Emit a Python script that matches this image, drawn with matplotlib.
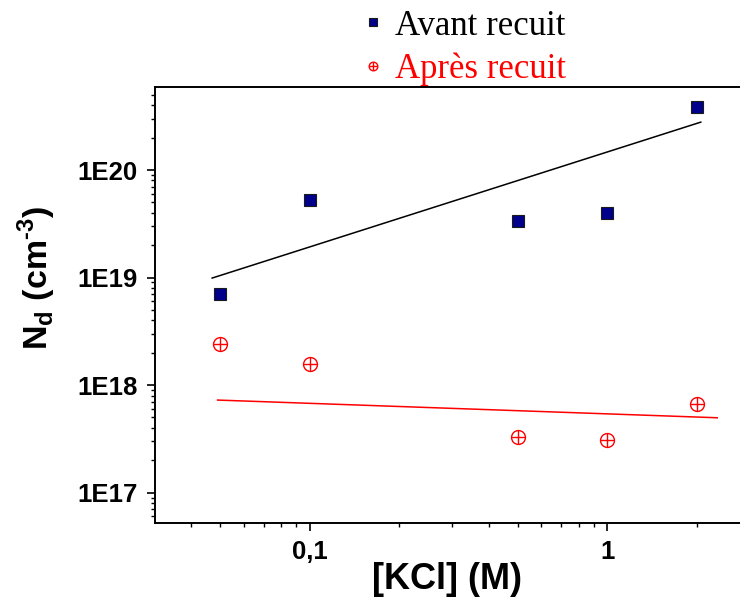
"""N_d vs [KCl] before/after annealing, log-log scatter with fit lines."""

import math

import matplotlib

matplotlib.use("Agg")

import matplotlib.pyplot as plt  # noqa: E402
from matplotlib.ticker import FixedLocator, FuncFormatter, LogLocator, NullFormatter  # noqa: E402

# data
kcl = [0.05, 0.1, 0.5, 1.0, 2.0]
nd_avant = [7.0e18, 5.26e19, 3.36e19, 3.98e19, 3.85e20]
nd_apres = [2.4e18, 1.57e18, 3.29e17, 3.08e17, 6.65e17]

# fit lines (end points as drawn)
fit_avant_x = [0.047, 2.06]
fit_avant_y = [9.9e18, 2.79e20]
fit_apres_x = [0.049, 2.34]
fit_apres_y = [7.26e17, 4.97e17]

x_ticks = [0.1, 1.0]
x_tick_labels = ["0,1", "1"]
y_ticks = [1e17, 1e18, 1e19, 1e20]

SANS = "Liberation Sans"
SERIF = "Liberation Serif"

plt.rcParams["mathtext.fontset"] = "custom"
plt.rcParams["mathtext.rm"] = "Liberation Sans:bold"
plt.rcParams["mathtext.bf"] = "Liberation Sans:bold"

fig = plt.figure(figsize=(7.40, 5.97), dpi=100)
ax = fig.add_axes([155 / 740, 74 / 597, 585 / 740, 436 / 597])

ax.set_xscale("log")
ax.set_yscale("log")
ax.set_xlim(0.0302, 2.79)
ax.set_ylim(5.22e16, 5.92e20)

ax.plot(fit_avant_x, fit_avant_y, color="black", lw=1.1)
ax.plot(fit_apres_x, fit_apres_y, color="#ff0000", lw=1.1)

sq, = ax.plot(kcl, nd_avant, ls="none", marker="s", ms=9, mfc="#00008b",
              mec="#1a1a1a", mew=0.8)
circ, = ax.plot(kcl, nd_apres, ls="none", marker="o", ms=10, mfc="none",
                mec="#ff0000", mew=1.0)
plus, = ax.plot(kcl, nd_apres, ls="none", marker="+", ms=10, mec="#ff0000",
                mew=1.0)

ax.spines["right"].set_visible(False)
for side in ("left", "bottom", "top"):
    ax.spines[side].set_linewidth(1.4)

ax.xaxis.set_major_locator(FixedLocator(x_ticks))
ax.xaxis.set_major_formatter(FuncFormatter(
    lambda v, _: x_tick_labels[x_ticks.index(v)] if v in x_ticks else ""))
ax.xaxis.set_minor_locator(LogLocator(base=10, subs=range(2, 10)))
ax.xaxis.set_minor_formatter(NullFormatter())

ax.yaxis.set_major_locator(FixedLocator(y_ticks))
ax.yaxis.set_major_formatter(FuncFormatter(lambda v, _: f"1E{round(math.log10(v))}"))
ax.yaxis.set_minor_locator(LogLocator(base=10, subs=range(2, 10), numticks=20))
ax.yaxis.set_minor_formatter(NullFormatter())

ax.tick_params(which="major", direction="out", length=5.5, width=1.2, pad=7)
ax.tick_params(which="minor", direction="out", length=3, width=1.0)
ax.tick_params(top=False, right=False)
for lab in ax.get_xticklabels() + ax.get_yticklabels():
    lab.set_fontfamily(SANS)
    lab.set_fontweight("bold")
    lab.set_fontsize(18.5)

ax.set_xlabel("[KCl] (M)", fontfamily=SANS, fontweight="bold", fontsize=26, labelpad=-2)
# hyphen (U+2010) instead of the minus sign mathtext would draw
ax.set_ylabel("N$_\\mathregular{d}$ (cm$^\\mathregular{\u20103}$)", fontfamily=SANS,
              fontweight="bold", fontsize=24.5)
ax.yaxis.set_label_coords((58 - 155) / 585, (523 - 278) / 436)

fig.legend([sq, (circ, plus)], ["Avant recuit", "Après recuit"],
           loc="center left", bbox_to_anchor=(331 / 740, 1 - 47.75 / 597),
           frameon=False, markerscale=0.62, handlelength=0.6, handletextpad=0.33,
           labelspacing=0.28, prop={"family": SERIF, "size": 25},
           labelcolor=["black", "#ff0000"])

fig.savefig("out.png", dpi=100)
